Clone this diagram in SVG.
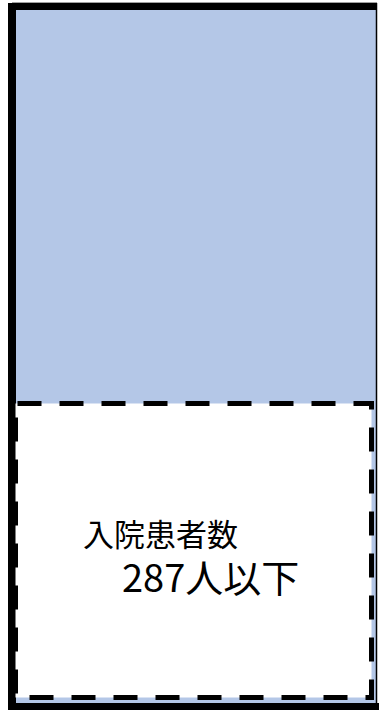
<svg xmlns="http://www.w3.org/2000/svg" width="379" height="710" viewBox="0 0 379 710">
<style>
.t{font-family:"Noto Sans CJK JP","Noto Sans",sans-serif;fill:#000}
</style>
<g id="outer">
<rect x="12" y="6.5" width="364.5" height="700" fill="#B4C7E7" stroke="none"/>
<line x1="12" y1="2.5" x2="377" y2="2.5" stroke="#a0a0a0" stroke-width="1"/>
<line x1="8" y1="6.5" x2="377" y2="6.5" stroke="#000" stroke-width="7"/>
<line x1="12" y1="3" x2="12" y2="710" stroke="#000" stroke-width="8"/>
<line x1="376.5" y1="3" x2="376.5" y2="703" stroke="#000" stroke-width="1.5"/>
<line x1="8" y1="706.5" x2="379" y2="706.5" stroke="#000" stroke-width="7"/>
</g>
<g id="inner">
<rect x="15.5" y="403.5" width="356" height="294" fill="#fff" stroke="#000" stroke-width="5" stroke-dasharray="24 18" stroke-dashoffset="-2"/>
<text class="t" x="83" y="546" font-size="31">入院患者数</text>
<text class="t" x="122" y="592" font-size="38">287人以下</text>
</g>
</svg>
